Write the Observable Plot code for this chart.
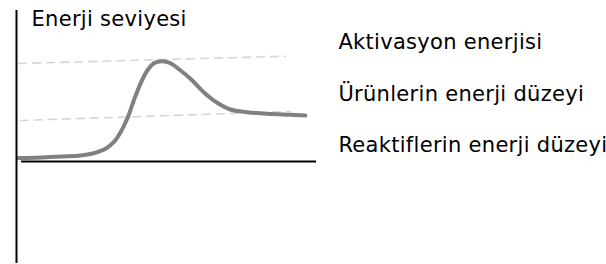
<!DOCTYPE html>
<html>
<head>
<meta charset="utf-8">
<script src="https://cdn.jsdelivr.net/npm/d3@7"></script>
<script src="https://cdn.jsdelivr.net/npm/@observablehq/plot@0.6"></script>
<style>
  html, body { margin: 0; padding: 0; background: #fff; }
</style>
</head>
<body>
<div id="chart"></div>
<script>
// Reaction progress (0–100) and energy (arbitrary units)
const curveProgress = [0.7, 8, 14.7, 21.3, 25.7, 29.7, 32.4, 34.7, 36.9, 39.1, 41.3, 43.6, 45.8, 48.7, 51.3, 54.7, 58, 62.4, 66.9, 71.3, 76.9, 83.6, 91.3, 96.3];
const curveEnergy   = [3.5, 4, 5, 6, 8.3, 12.7, 19.3, 29.3, 42.7, 61, 77.7, 91, 98.3, 100.3, 98.3, 91, 82.7, 69.3, 58.7, 52, 49.3, 47.7, 46.7, 46];

const activationLineProgress = [0.7, 89.7];
const activationLineEnergy   = [98, 105.3];
const productLineProgress = [1.3, 91.3];
const productLineEnergy   = [41, 50];

const axisLabel = "Enerji seviyesi";
const legendLabels = ["Aktivasyon enerjisi", "Ürünlerin enerji düzeyi", "Reaktiflerin enerji düzeyi"];
const legendEnergy = [119.4, 67.7, 16];

const curve = curveProgress.map((p, i) => ({p, e: curveEnergy[i]}));
const actLine = activationLineProgress.map((p, i) => ({p, e: activationLineEnergy[i]}));
const prodLine = productLineProgress.map((p, i) => ({p, e: productLineEnergy[i]}));
const legend = legendLabels.map((t, i) => ({t, e: legendEnergy[i]}));

const chart = Plot.plot({
  width: 606,
  height: 264,
  margin: 0,
  style: {fontFamily: "'DejaVu Sans', Verdana, sans-serif", background: "#fff", letterSpacing: "0.3px"},
  x: {domain: [0, 100], range: [16, 316], axis: null},
  y: {domain: [0, 100], range: [161, 61], axis: null},
  marks: [
    Plot.line(actLine, {x: "p", y: "e", stroke: "#d6d6d6", strokeWidth: 1.6, strokeDasharray: "8,6"}),
    Plot.line(prodLine, {x: "p", y: "e", stroke: "#d6d6d6", strokeWidth: 1.6, strokeDasharray: "8,6"}),
    Plot.line(curve, {x: "p", y: "e", curve: "catmull-rom", stroke: "#808080", strokeWidth: 4}),
    Plot.ruleX([0], {y1: -102, y2: 151, stroke: "#000", strokeWidth: 2}),
    Plot.ruleY([0], {x1: 1.7, x2: 100, stroke: "#000", strokeWidth: 2}),
    Plot.text([axisLabel], {x: 5, y: 142.7, text: d => d, textAnchor: "start", fontSize: 21, fill: "#000"}),
    Plot.text(legend, {x: 107.3, y: "e", text: "t", textAnchor: "start", fontSize: 21, fill: "#000"})
  ]
});
document.getElementById("chart").appendChild(chart);
</script>
</body>
</html>
